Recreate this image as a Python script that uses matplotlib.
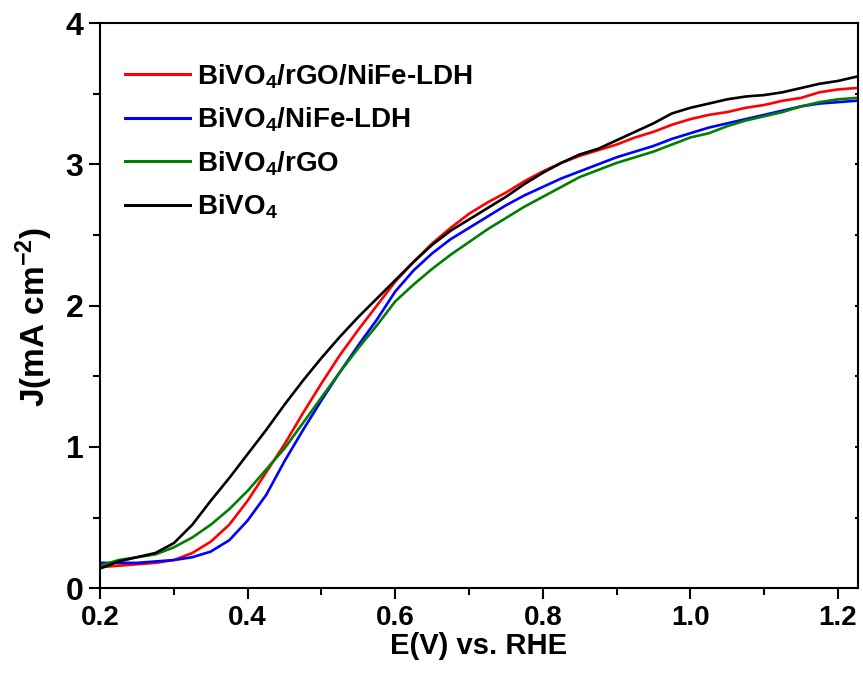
import matplotlib
matplotlib.use("Agg")
import matplotlib.pyplot as plt
import matplotlib.lines as mlines
from matplotlib.ticker import MultipleLocator

plt.rcParams['font.family'] = ['Liberation Sans', 'DejaVu Sans']
plt.rcParams['font.weight'] = 'bold'
plt.rcParams['mathtext.fontset'] = 'custom'
plt.rcParams['mathtext.rm'] = 'Liberation Sans:bold'
plt.rcParams['mathtext.it'] = 'Liberation Sans:bold'
plt.rcParams['mathtext.bf'] = 'Liberation Sans:bold'

E = [0.200, 0.225, 0.250, 0.275, 0.300, 0.325, 0.350, 0.375, 0.400, 0.425,
     0.450, 0.475, 0.500, 0.525, 0.550, 0.575, 0.600, 0.625, 0.650, 0.675,
     0.700, 0.725, 0.750, 0.775, 0.800, 0.825, 0.850, 0.875, 0.900, 0.925,
     0.950, 0.975, 1.000, 1.025, 1.050, 1.075, 1.100, 1.125, 1.150, 1.175,
     1.200, 1.225]

J_bivo4_rgo_nife = [0.15, 0.16, 0.17, 0.18, 0.20, 0.25, 0.33, 0.45, 0.62, 0.82,
                    1.02, 1.24, 1.45, 1.65, 1.83, 2.00, 2.17, 2.31, 2.44, 2.55,
                    2.65, 2.73, 2.80, 2.88, 2.95, 3.01, 3.06, 3.10, 3.14, 3.19,
                    3.23, 3.28, 3.32, 3.35, 3.37, 3.40, 3.42, 3.45, 3.47, 3.51,
                    3.53, 3.54]

J_bivo4_nife = [0.18, 0.18, 0.18, 0.19, 0.20, 0.22, 0.26, 0.34, 0.48, 0.66,
                0.90, 1.12, 1.33, 1.53, 1.72, 1.90, 2.10, 2.25, 2.37, 2.47,
                2.55, 2.63, 2.71, 2.78, 2.84, 2.90, 2.95, 3.00, 3.05, 3.09,
                3.13, 3.18, 3.22, 3.26, 3.29, 3.32, 3.35, 3.38, 3.41, 3.43,
                3.44, 3.45]

J_bivo4_rgo = [0.16, 0.20, 0.22, 0.24, 0.29, 0.36, 0.45, 0.56, 0.69, 0.84,
               0.99, 1.17, 1.35, 1.53, 1.70, 1.86, 2.03, 2.15, 2.26, 2.36,
               2.45, 2.54, 2.62, 2.70, 2.77, 2.84, 2.91, 2.96, 3.01, 3.05,
               3.09, 3.14, 3.19, 3.22, 3.27, 3.31, 3.34, 3.37, 3.41, 3.44,
               3.46, 3.47]

J_bivo4 = [0.14, 0.19, 0.22, 0.25, 0.32, 0.45, 0.62, 0.78, 0.95, 1.12,
           1.30, 1.47, 1.63, 1.78, 1.92, 2.05, 2.18, 2.31, 2.43, 2.53,
           2.61, 2.69, 2.77, 2.86, 2.94, 3.01, 3.07, 3.11, 3.17, 3.23,
           3.29, 3.36, 3.40, 3.43, 3.46, 3.48, 3.49, 3.51, 3.54, 3.57,
           3.59, 3.62]

labels = [r'BiVO$_\mathbf{4}$/rGO/NiFe-LDH', r'BiVO$_\mathbf{4}$/NiFe-LDH',
          r'BiVO$_\mathbf{4}$/rGO', r'BiVO$_\mathbf{4}$']
colors = ['#ff0000', '#0000ff', '#008000', '#000000']
data = [J_bivo4_rgo_nife, J_bivo4_nife, J_bivo4_rgo, J_bivo4]

fig = plt.figure(figsize=(8.63, 6.77), dpi=100)
ax = fig.add_axes([0.116, 0.131, 0.878, 0.835])

for label, J, c in zip(labels, data, colors):
    ax.plot(E, J, color=c, lw=1.9, label=label)

ax.set_xlim(0.2, 1.227)
ax.set_ylim(0, 4)
ax.set_xticks([0.2, 0.4, 0.6, 0.8, 1.0, 1.2])
ax.set_xticklabels(['0.2', '0.4', '0.6', '0.8', '1.0', '1.2'])
ax.xaxis.set_minor_locator(MultipleLocator(0.1))
ax.yaxis.set_major_locator(MultipleLocator(1))
ax.yaxis.set_minor_locator(MultipleLocator(0.5))

for s in ax.spines.values():
    s.set_linewidth(1.5)

ax.tick_params(axis='both', which='major', direction='out', length=8, width=1.5, pad=4)
ax.tick_params(axis='both', which='minor', direction='out', length=5, width=1.5)
ax.tick_params(axis='x', which='major', labelsize=20)
ax.tick_params(axis='y', which='major', labelsize=23)
ax.tick_params(axis='y', which='both', right=True, labelright=False)
for lbl in ax.get_xticklabels() + ax.get_yticklabels():
    lbl.set_fontweight('bold')

# tiny inward ticks on the right spine
for tl in ax.yaxis.get_majorticklines()[1::2] + ax.yaxis.get_minorticklines()[1::2]:
    tl.set_markersize(2)
    tl.set_marker(mlines.TICKLEFT)

ax.set_xlabel('E(V) vs. RHE', fontsize=21, fontweight='bold', labelpad=1)
ax.set_ylabel(r'J(mA cm$^{\mathbf{-2}}$)', fontsize=24, fontweight='bold')
ax.yaxis.set_label_coords(-0.059, 0.48)

leg = ax.legend(loc='upper left', frameon=False, fontsize=20, handlelength=2.35,
                handletextpad=0.25, labelspacing=0.54, borderaxespad=0.0,
                borderpad=0.0, bbox_to_anchor=(0.033, 0.931))
for line in leg.get_lines():
    line.set_linewidth(2.2)

fig.savefig('out.png', dpi=100)
